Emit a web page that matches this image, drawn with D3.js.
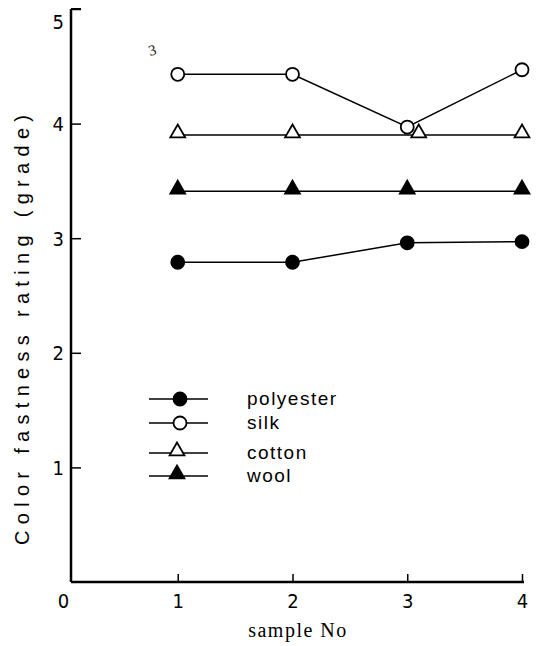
<!DOCTYPE html>
<html>
<head>
<meta charset="utf-8">
<script src="https://cdn.jsdelivr.net/npm/d3@7"></script>
<style>
  html, body { margin: 0; padding: 0; background: #fff; }
  svg { display: block; }
</style>
</head>
<body>
<svg id="chart" width="536" height="646"></svg>
<script>
// ---- data ----
const samples = [1, 2, 3, 4];
const cottonX = [1, 2, 3.1, 4];
const polyester = [2.79, 2.79, 2.96, 2.97];
const silk = [4.43, 4.43, 3.97, 4.47];
const cotton = [3.9, 3.9, 3.9, 3.9];
const wool = [3.41, 3.41, 3.41, 3.41];
const xTicks = [0, 1, 2, 3, 4];
const yTicks = [1, 2, 3, 4, 5];
const seriesNames = ["polyester", "silk", "cotton", "wool"];

const series = [
  { name: "polyester", xs: samples, ys: polyester, shape: "circle", fill: "#000" },
  { name: "silk", xs: samples, ys: silk, shape: "circle", fill: "#fff" },
  { name: "cotton", xs: cottonX, ys: cotton, shape: "triangle", fill: "#fff" },
  { name: "wool", xs: samples, ys: wool, shape: "triangle", fill: "#000" }
];

const svg = d3.select("#chart");
const x = d3.scaleLinear().domain([0, 4]).range([63, 522]);
const y = d3.scaleLinear().domain([0, 5]).range([582, 9]);
const axisX = 71;
const numFont = "'Liberation Sans Narrow', 'DejaVu Sans Condensed', sans-serif";

// y axis
const yAxis = d3.axisLeft(y).tickValues(yTicks).tickSize(-10).tickPadding(6).tickFormat(d3.format("d"));
const gy = svg.append("g").attr("transform", `translate(${axisX},0)`).call(yAxis);
gy.select(".domain").remove();
gy.append("line").attr("x1", 0).attr("x2", 0).attr("y1", y(0)).attr("y2", y(5))
  .attr("stroke", "#000").attr("stroke-width", 2.5);
gy.selectAll(".tick line").attr("stroke", "#000").attr("stroke-width", 1.5);
gy.selectAll(".tick text").attr("font-family", numFont).attr("font-size", 20).attr("fill", "#000")
  .attr("x", -7).attr("dy", d => d === 5 ? "0.95em" : "0.35em");
// short top cap at 5
gy.append("line").attr("x1", 0).attr("x2", 10).attr("y1", y(5)).attr("y2", y(5))
  .attr("stroke", "#000").attr("stroke-width", 2);

// x axis
const xAxis = d3.axisBottom(x).tickValues(xTicks).tickSize(-8).tickPadding(12).tickFormat(d3.format("d"));
const gx = svg.append("g").attr("transform", `translate(0,${y(0)})`).call(xAxis);
gx.select(".domain").remove();
gx.append("line").attr("x1", axisX).attr("x2", x(4) + 2).attr("y1", 0).attr("y2", 0)
  .attr("stroke", "#000").attr("stroke-width", 2.5);
gx.selectAll(".tick line").attr("stroke", "#000").attr("stroke-width", 1.5)
  .filter(d => d === 0).remove();
gx.selectAll(".tick text").attr("font-family", numFont).attr("font-size", 20).attr("fill", "#000");

// axis titles
svg.append("text").attr("x", 298).attr("y", 637).attr("text-anchor", "middle")
  .attr("font-family", "'Liberation Serif', serif").attr("font-size", 20)
  .attr("letter-spacing", 1.5).text("sample No");

svg.append("text")
  .attr("transform", `translate(29,${330}) rotate(-90)`)
  .attr("text-anchor", "middle")
  .attr("font-family", "'Liberation Sans', sans-serif").attr("font-size", 20)
  .attr("textLength", 430).attr("lengthAdjust", "spacing")
  .text("Color fastness rating (grade)");

// stray mark near top
svg.append("text").attr("x", 148).attr("y", 55).attr("font-family", "'Liberation Serif', serif")
  .attr("font-size", 15).attr("fill", "#222").attr("transform", "rotate(-15,153,48)").text("3");

// marker drawing
const triPath = d3.symbol().type(d3.symbolTriangle).size(95);
function drawMarker(g, s, cx, cy) {
  if (s.shape === "circle") {
    g.append("circle").attr("cx", cx).attr("cy", cy).attr("r", 6.5)
      .attr("fill", s.fill).attr("stroke", "#000").attr("stroke-width", 1.8);
  } else {
    g.append("path").attr("d", triPath()).attr("transform", `translate(${cx},${cy - 2})`)
      .attr("fill", s.fill).attr("stroke", "#000").attr("stroke-width", 1.8);
  }
}

const line = d3.line().x(d => x(d[0])).y(d => y(d[1]));
const plot = svg.append("g");
series.forEach(s => {
  const pts = s.xs.map((xv, i) => [xv, s.ys[i]]);
  plot.append("path").attr("d", line(pts)).attr("fill", "none")
    .attr("stroke", "#000").attr("stroke-width", 1.5);
});
series.forEach(s => {
  s.xs.forEach((xv, i) => drawMarker(plot, s, x(xv), y(s.ys[i])));
});

// legend
const legY = [399, 423, 453, 476];
const leg = svg.append("g");
series.forEach((s, i) => {
  const ly = legY[i];
  leg.append("line").attr("x1", 149).attr("x2", 208).attr("y1", ly).attr("y2", ly)
    .attr("stroke", "#000").attr("stroke-width", 1.5);
  drawMarker(leg, s, s.shape === "circle" ? 180 : 177, ly);
  leg.append("text").attr("x", 247).attr("y", ly + 6)
    .attr("font-family", "'Liberation Sans', sans-serif").attr("font-size", 19)
    .attr("letter-spacing", 1.5).text(seriesNames[i]);
});
</script>
</body>
</html>
